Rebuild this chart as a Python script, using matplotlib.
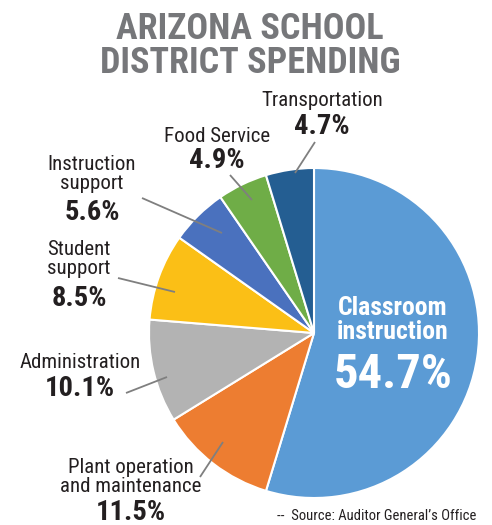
import matplotlib
matplotlib.use("Agg")
import matplotlib.pyplot as plt
from matplotlib import font_manager

W, H = 492, 525

categories = ["Classroom instruction", "Plant operation and maintenance", "Administration",
              "Student support", "Instruction support", "Food Service", "Transportation"]
values = [54.7, 11.5, 10.1, 8.5, 5.6, 4.9, 4.7]
colors = ["#5B9BD5", "#ED7D31", "#B3B3B3", "#FBBF16", "#4A71BE", "#6FAD47", "#245E92"]

available = {f.name for f in font_manager.fontManager.ttflist}
fam = None
for cand in ["Liberation Sans Narrow", "Roboto Condensed", "Arial Narrow", "Liberation Sans"]:
    if cand in available:
        fam = cand
        break
plt.rcParams['font.family'] = [fam, 'DejaVu Sans'] if fam else ['DejaVu Sans']

fig = plt.figure(figsize=(W / 100, H / 100), dpi=100)
ax = fig.add_axes([0, 0, 1, 1])

def Y(y):
    return H - y

cx, cy, r = 314, 333, 165
ax.pie(values, colors=colors, startangle=90, counterclock=False,
       center=(cx, Y(cy)), radius=r, frame=True,
       wedgeprops=dict(edgecolor='white', linewidth=1.5))
ax.set_xlim(0, W)
ax.set_ylim(0, H)
ax.set_aspect('equal')
ax.axis('off')

title_col = "#76777A"
ax.text(250, Y(46), "ARIZONA SCHOOL\nDISTRICT SPENDING", ha='center', va='center',
        fontsize=26, fontweight='bold', color=title_col, linespacing=0.92)

dark = "#231F20"
lab_fs = 15
pct_fs = 20.5

def label(x, lines, y0, pct, ypct, ha='center', xp=None):
    ax.text(x, Y(y0 + (len(lines) - 1) * 11), "\n".join(lines), ha=ha, va='center',
            fontsize=lab_fs, color=dark, linespacing=0.98)
    ax.text(xp if xp is not None else x, Y(ypct), pct, ha=ha, va='center',
            fontsize=pct_fs, fontweight='bold', color=dark)

label(322, ["Transportation"], 100, f"{values[6]}%", 127)
label(217, ["Food Service"], 136, f"{values[5]}%", 161)
label(92, ["Instruction", "support"], 163, f"{values[4]}%", 213)
label(47, ["Student", "support"], 248, f"{values[3]}%", 298, ha='left', xp=52)
label(80, ["Administration"], 362, f"{values[2]}%", 388)
label(131, ["Plant operation", "and maintenance"], 466, f"{values[1]}%", 513)

ax.text(393, Y(320), "Classroom\ninstruction", ha='center', va='center', fontsize=18.5,
        fontweight='bold', color='white', linespacing=0.95)
ax.text(393, Y(375), f"{values[0]}%", ha='center', va='center', fontsize=35,
        fontweight='bold', color='white')

leaders = [((295, 173), (315, 142)),
           ((230, 175), (252, 200)),
           ((142, 198), (222, 233)),
           ((118, 278), (175, 292)),
           ((126, 393), (167, 377)),
           ((200, 477), (223, 442))]
for (x1, y1), (x2, y2) in leaders:
    ax.plot([x1, x2], [Y(y1), Y(y2)], color="#7F7F7F", linewidth=1.3,
            solid_capstyle='butt')

ax.text(277, Y(516), "--  Source: Auditor General\u2019s Office", ha='left', va='center',
        fontsize=10.5, color=dark)

fig.savefig("out.png", dpi=100)
